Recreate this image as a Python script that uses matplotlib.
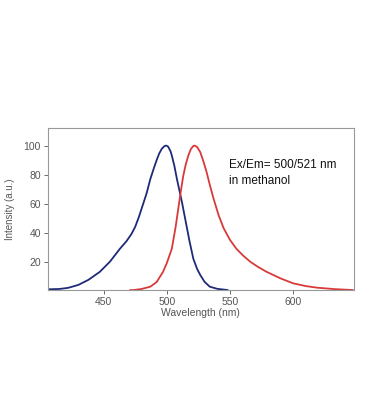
import matplotlib
matplotlib.use('Agg')
import matplotlib.pyplot as plt

# --- Data ---
ex_wl = [406, 415, 422, 430, 438, 447, 455, 463, 468, 472, 475, 478, 481, 484,
         487, 490, 492, 494, 496, 498, 499.5, 501, 503, 504, 506, 508, 510, 512,
         514, 516, 518, 521, 524, 526.5, 530, 534, 540, 548]
ex_int = [1.0, 1.2, 2.0, 4.0, 7.5, 13, 20, 29, 34, 39, 44, 51, 59, 67,
          77, 85, 90, 94.5, 97.7, 99.5, 100, 99.3, 96, 93, 86, 77, 69, 61,
          52, 43, 34, 22, 15, 10.8, 6, 2.8, 1.3, 0.5]

em_wl = [471, 474, 480, 487, 492, 497, 500, 504, 507, 509, 511, 513, 515, 517,
         519, 521, 522, 524, 526.5, 529, 531.5, 534, 537, 541, 545, 550, 555,
         560, 566, 572, 579, 590, 600, 610, 619, 633, 647]
em_int = [0.4, 0.5, 1.2, 2.8, 6, 13, 19, 29, 44, 56, 68, 79, 87, 93,
          97.5, 99.7, 100, 99, 95.4, 89, 81.7, 73, 63.4, 52, 43, 35, 29,
          24.5, 20, 16.5, 13, 8.5, 5.1, 3.2, 2.1, 1.1, 0.5]

x_ticks = [450, 500, 550, 600]
y_ticks = [20, 40, 60, 80, 100]

EX_COLOR = '#1e2a78'
EM_COLOR = '#d83a3a'
GRAY = '#555555'

plt.rcParams['font.family'] = ['Liberation Sans', 'DejaVu Sans']

fig = plt.figure(figsize=(3.69, 4.2), dpi=100)
ax = fig.add_axes([0.130, 0.3095, 0.829, 0.3855])

ax.plot(ex_wl, ex_int, color=EX_COLOR, linewidth=1.3)
ax.plot(em_wl, em_int, color=EM_COLOR, linewidth=1.3)

ax.set_xlim(406, 648)
ax.set_ylim(0.5, 112)
ax.set_xticks(x_ticks)
ax.set_yticks(y_ticks)

ax.tick_params(axis='both', direction='out', length=3, width=0.6,
               colors=GRAY, labelsize=7.5, pad=2)
ax.tick_params(top=False, right=False)
for s in ax.spines.values():
    s.set_color('#999999')
    s.set_linewidth(0.8)

ax.set_xlabel('Wavelength (nm)', fontsize=7.5, color=GRAY, labelpad=1)
ax.set_ylabel('Intensity (a.u.)', fontsize=7, color=GRAY, labelpad=6)

ax.text(0.593, 0.81, 'Ex/Em= 500/521 nm\nin methanol', transform=ax.transAxes,
        fontsize=8.5, color='#111111', ha='left', va='top', linespacing=1.45)

fig.savefig('out.png', dpi=100, facecolor='white')
